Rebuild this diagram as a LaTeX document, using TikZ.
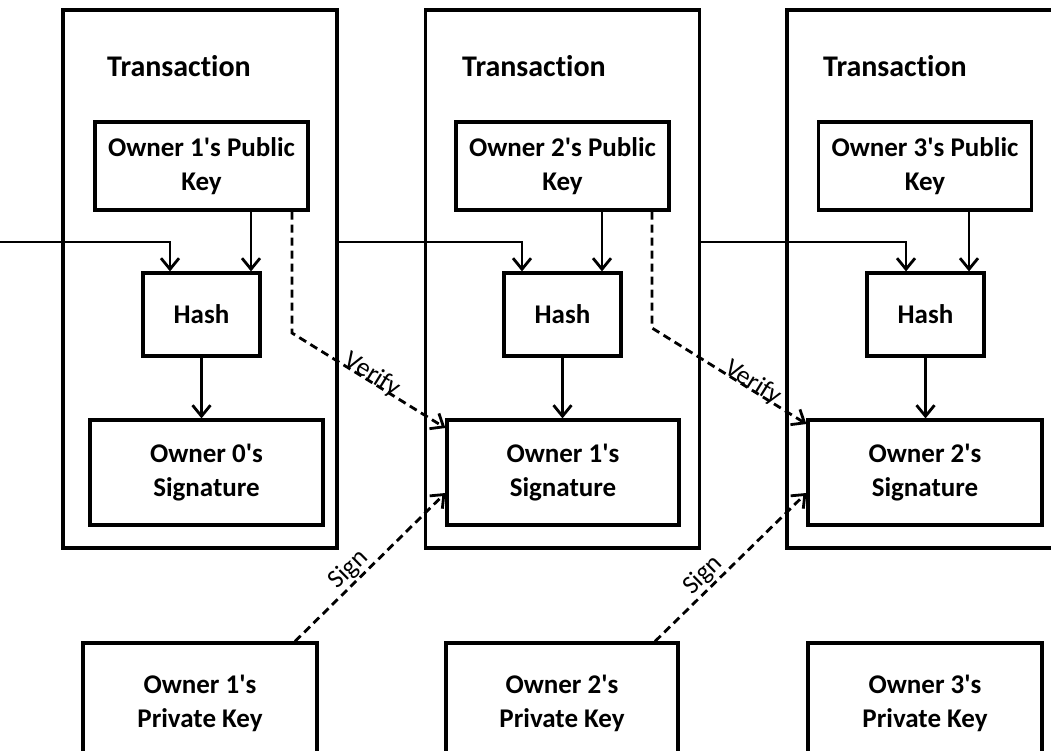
\documentclass[tikz,border=0pt]{standalone}
\usepackage{fontspec}
\setmainfont{Carlito}[Ligatures=NoCommon]
\usetikzlibrary{arrows.meta}
\newcommand{\apos}{\textquotesingle}
\tikzset{
  frame/.style={draw, line width=3.2pt, minimum width=274pt, minimum height=538pt, inner sep=0pt},
  box/.style={draw, line width=3.2pt, fill=white, align=center, inner sep=0pt,
    font=\fontsize{27}{34}\selectfont\bfseries},
  pubkey/.style={box, minimum width=213pt, minimum height=88pt},
  hashbox/.style={box, minimum width=117pt, minimum height=83pt},
  sigbox/.style={box, minimum width=233pt, minimum height=105pt},
  privbox/.style={box, minimum width=234pt, minimum height=120pt},
  title/.style={font=\fontsize{30}{36}\selectfont\bfseries, anchor=base west, inner sep=0pt},
  flow/.style={line width=2.8pt, -{Straight Barb[length=11pt,width=18pt]}},
  link/.style={flow, dash pattern=on 8pt off 5pt},
  tag/.style={font=\fontsize{26}{30}\selectfont, sloped}
}
\begin{document}
\begin{tikzpicture}[x=1pt, y=-1pt]
\useasboundingbox (0,0) rectangle (1051,751);
\clip (0,0) rectangle (1051,751);

% transaction frames
\node[frame] (tx1) at (200,279) {};
\node[frame] (tx2) at (562.5,279) {};
\node[frame, minimum width=280pt] (tx3) at (927,279) {};
\node[title] (t1) at (107,77) {Transaction};
\node[title] (t2) at (462,77) {Transaction};
\node[title] (t3) at (823,77) {Transaction};

% public keys
\node[pubkey] (pk1) at (201.5,166) {Owner 1\apos s Public\\Key};
\node[pubkey] (pk2) at (562.5,166) {Owner 2\apos s Public\\Key};
\node[pubkey] (pk3) at (925,166) {Owner 3\apos s Public\\Key};

% hashes
\node[hashbox] (h1) at (201.5,314.5) {Hash};
\node[hashbox] (h2) at (562.5,314.5) {Hash};
\node[hashbox] (h3) at (925.5,314.5) {Hash};

% signatures
\node[sigbox] (s1) at (206.5,472.5) {Owner 0\apos s\\Signature};
\node[sigbox, minimum width=232pt] (s2) at (563,472.5) {Owner 1\apos s\\Signature};
\node[sigbox, minimum width=234pt] (s3) at (925,472.5) {Owner 2\apos s\\Signature};

% private keys
\node[privbox] (p1) at (200,703) {Owner 1\apos s\\Private Key};
\node[privbox, minimum width=232pt] (p2) at (562,703) {Owner 2\apos s\\Private Key};
\node[privbox] (p3) at (925,703) {Owner 3\apos s\\Private Key};

% chain of previous transactions into each hash
\coordinate (in) at (0,242);
\draw[flow] (in) -| ([xshift=-31.5pt]h1.north);
\draw[flow] (tx1.east |- in) -| ([xshift=-40.5pt]h2.north);
\draw[flow] (tx2.east |- in) -| ([xshift=-19.5pt]h3.north);

% public key into hash
\draw[flow] ([xshift=49.5pt]h1.north |- pk1.south) -- ([xshift=49.5pt]h1.north);
\draw[flow] ([xshift=39.5pt]h2.north |- pk2.south) -- ([xshift=39.5pt]h2.north);
\draw[flow] ([xshift=43.5pt]h3.north |- pk3.south) -- ([xshift=43.5pt]h3.north);

% hash into signature
\draw[flow] (h1.south) -- (h1.south |- s1.north);
\draw[flow] (h2.south) -- (h2.south |- s2.north);
\draw[flow] (h3.south) -- (h3.south |- s3.north);

% verify links
\coordinate (v1) at (292,333);
\coordinate (v2) at (652,328);
\draw[link] (pk1.south -| v1) -- (v1)
  -- node[tag, anchor=base, pos=0.5] {Verify} ([yshift=44.5pt]s2.west);
\draw[link] (pk2.south -| v2) -- (v2)
  -- node[tag, anchor=base, pos=0.63] {Verify} ([yshift=48.5pt]s3.west);

% sign links
\draw[link] ([xshift=95pt]p1.north)
  -- node[tag, above, inner sep=1pt, pos=0.42] {Sign} ([yshift=-20.5pt]s2.west);
\draw[link] ([xshift=93pt]p2.north)
  -- node[tag, above, inner sep=1pt, pos=0.38] {Sign} ([yshift=-20.5pt]s3.west);
\end{tikzpicture}
\end{document}
